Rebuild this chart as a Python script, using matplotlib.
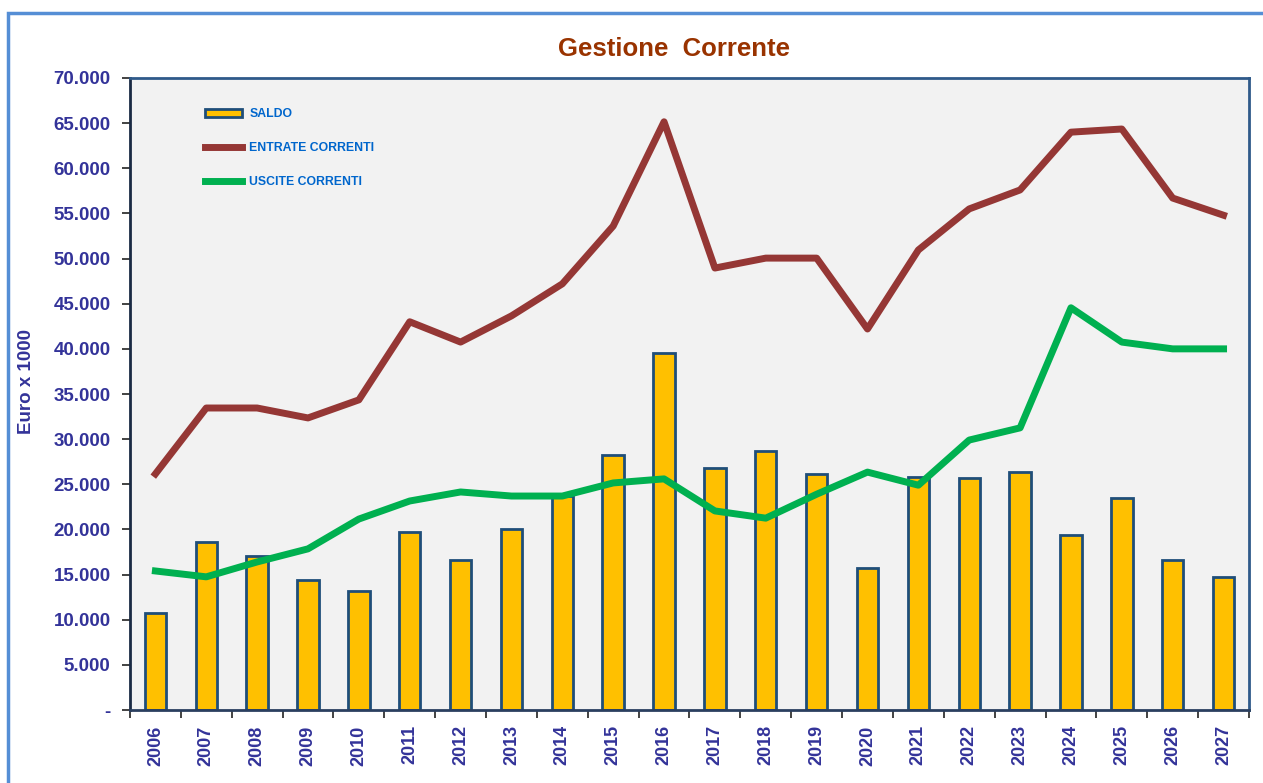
import numpy as np
import matplotlib.pyplot as plt
from matplotlib.patches import Rectangle
from matplotlib.ticker import FuncFormatter

plt.rcParams['font.family'] = ['Liberation Sans', 'DejaVu Sans']
plt.rcParams['font.weight'] = 'bold'

years = [str(y) for y in range(2006, 2028)]
saldo = [10750, 18600, 17100, 14400, 13200, 19750, 16600, 20050, 23700, 28250,
         39550, 26800, 28700, 26150, 15700, 25800, 25650, 26350, 19400, 23450,
         16650, 14750]
entrate = [26150, 33450, 33450, 32350, 34350, 43000, 40750, 43650, 47200, 53600,
           65150, 48950, 50050, 50050, 42200, 50950, 55500, 57600, 64000, 64350,
           56700, 54800]
uscite = [15400, 14750, 16400, 17850, 21150, 23150, 24150, 23700, 23700, 25150,
          25600, 22050, 21250, 23900, 26350, 24900, 29900, 31250, 44550, 40750,
          40000, 40000]

text_col = '#333399'
fig = plt.figure(figsize=(12.63, 7.83), dpi=100)
ax = fig.add_axes([0.1029, 0.0932, 0.886, 0.8072])
ax.set_facecolor('#F2F2F2')

x = np.arange(len(years))
bars = ax.bar(x, saldo, width=0.42, color='#FFC000', edgecolor='#1F4E79',
              linewidth=2, label='SALDO', zorder=2)
l1, = ax.plot(x, entrate, color='#953735', linewidth=5, label='ENTRATE CORRENTI',
              zorder=3)
l2, = ax.plot(x, uscite, color='#00B050', linewidth=5, label='USCITE CORRENTI',
              zorder=3)

ax.set_xlim(-0.5, len(years) - 0.5)
ax.set_ylim(0, 70000)
ax.set_yticks(np.arange(0, 70001, 5000))
ax.yaxis.set_major_formatter(FuncFormatter(
    lambda v, p: '-' if v == 0 else f'{int(v):,}'.replace(',', '.')))
ax.set_xticks(x)
ax.set_xticklabels(years, rotation=90)
ax.set_xticks(np.arange(-0.5, len(years)), minor=True)
ax.tick_params(axis='x', which='major', length=0, pad=11, labelsize=13,
               labelcolor=text_col)
ax.tick_params(axis='x', which='minor', length=6, width=1.2, color='#222222')
ax.tick_params(axis='y', length=6, width=1.2, color='#222222', pad=8,
               labelsize=13.5, labelcolor=text_col)

for s in ax.spines.values():
    s.set_color('#2F5A8A')
    s.set_linewidth(2)
ax.spines['left'].set_color('#1A2A44')
ax.spines['bottom'].set_color('#2A3F5F')

ax.set_ylabel('Euro x 1000', color=text_col, fontsize=13.5, fontweight='bold')
ax.yaxis.set_label_coords(-0.085, 0.52)

fig.text(0.534, 0.938, 'Gestione  Corrente', color='#993300', fontsize=18.5,
         ha='center', va='center')

leg = ax.legend([bars, l1, l2], ['SALDO', 'ENTRATE CORRENTI', 'USCITE CORRENTI'],
                loc='upper left', bbox_to_anchor=(0.062, 0.962), frameon=False,
                fontsize=8.8, labelspacing=1.8, handlelength=3.0,
                handletextpad=0.6, borderpad=0)
for t in leg.get_texts():
    t.set_color('#0066CC')

fig.patches.append(Rectangle((8 / 1263, -0.1), 1.2, 1 - 13 / 783 + 0.1,
                             transform=fig.transFigure, fill=False,
                             edgecolor='#558ED5', linewidth=2.5))

plt.savefig('out.png', dpi=100)
